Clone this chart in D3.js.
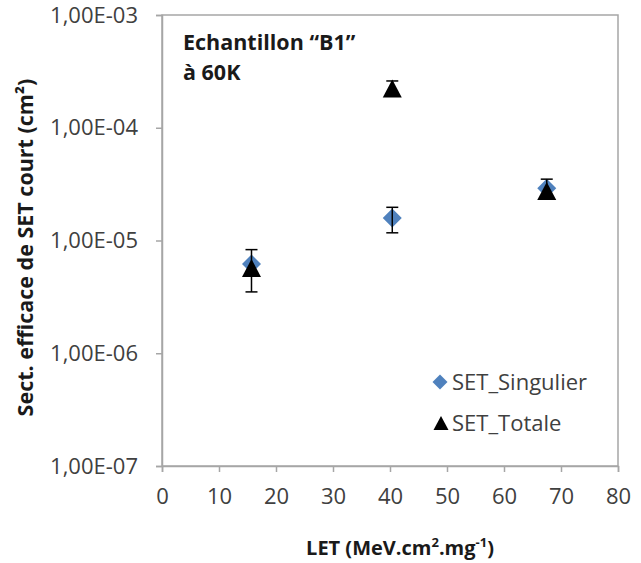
<!DOCTYPE html>
<html><head><meta charset="utf-8">
<script src="https://cdn.jsdelivr.net/npm/d3@7"></script>
<style>
html,body{margin:0;padding:0;background:#fff;}
svg{display:block;font-family:"Open Sans",sans-serif;}
</style></head>
<body><svg id="c" width="641" height="563"></svg>
<script>
// ---- data ----
const xTicks = [0,10,20,30,40,50,60,70,80];
const yTicks = [1e-7,1e-6,1e-5,1e-4,1e-3];
const yTickLabels = ["1,00E-07","1,00E-06","1,00E-05","1,00E-04","1,00E-03"];
const letValues = [15.7, 40.4, 67.5];
const singulier = [6.2e-6, 1.58e-5, 2.9e-5];
const singulierLow = [3.5e-6, 1.17e-5, 2.5e-5];
const singulierHigh = [8.3e-6, 1.97e-5, 3.5e-5];
const totale = [5.7e-6, 2.23e-4, 2.75e-5];
const totaleLow = [5.7e-6, 2.0e-4, 2.75e-5];
const totaleHigh = [5.7e-6, 2.6e-4, 2.75e-5];
const seriesNames = ["SET_Singulier","SET_Totale"];

const svg = d3.select("#c");
const L=162, R=618, T=15, B=466;
const x = d3.scaleLinear().domain([0,80]).range([L,R]);
const y = d3.scaleLog().domain([1e-7,1e-3]).range([B,T]);
const axisCol = "#a6a6a6";

// frame
svg.append("rect").attr("x",L).attr("y",T).attr("width",R-L).attr("height",B-T)
  .attr("fill","none").attr("stroke",axisCol).attr("stroke-width",1.5);

// y axis
const yAx = svg.append("g").attr("transform",`translate(${L},0)`)
  .call(d3.axisLeft(y).tickValues(yTicks).tickSize(6).tickPadding(18)
    .tickFormat((d,i)=>yTickLabels[i]));
yAx.select(".domain").attr("stroke",axisCol).attr("stroke-width",1.5);
yAx.selectAll(".tick line").attr("stroke",axisCol).attr("stroke-width",1.5);
yAx.selectAll(".tick text").attr("font-size",22).attr("fill","#404040")
  .attr("font-family","Open Sans");

// x axis
const xAx = svg.append("g").attr("transform",`translate(0,${B})`)
  .call(d3.axisBottom(x).tickValues(xTicks).tickSize(6).tickPadding(16));
xAx.select(".domain").attr("stroke",axisCol).attr("stroke-width",1.5);
xAx.selectAll(".tick line").attr("stroke",axisCol).attr("stroke-width",1.5);
xAx.selectAll(".tick text").attr("font-size",22).attr("fill","#404040")
  .attr("font-family","Open Sans");

// titles
const xt = svg.append("text").attr("x",400).attr("y",555).attr("text-anchor","middle")
  .attr("font-size",20).attr("font-weight","bold").attr("fill","#1a1a1a");
xt.append("tspan").text("LET (MeV.cm");
xt.append("tspan").attr("font-size",13).attr("dy",-8).text("2");
xt.append("tspan").attr("dy",8).text(".mg");
xt.append("tspan").attr("font-size",13).attr("dy",-8).text("-1");
xt.append("tspan").attr("dy",8).text(")");

svg.append("text").attr("transform",`translate(33,${(T+B)/2+7}) rotate(-90)`)
  .attr("text-anchor","middle").attr("font-size",21.5).attr("font-weight","bold")
  .attr("fill","#1a1a1a").text("Sect. efficace de SET court (cm²)");

// annotation
svg.append("text").attr("x",183).attr("y",50).attr("font-size",21.5).attr("font-weight","bold")
  .attr("fill","#1a1a1a").text("Echantillon “B1”");
svg.append("text").attr("x",183).attr("y",80).attr("font-size",21.5).attr("font-weight","bold")
  .attr("fill","#1a1a1a").text("à 60K");

function diamond(cx,cy,r){return `M${cx},${cy-r}L${cx+r},${cy}L${cx},${cy+r}L${cx-r},${cy}Z`;}
function triangle(cx,cy,h,w){return `M${cx},${cy-h/2}L${cx+w/2},${cy+h/2}L${cx-w/2},${cy+h/2}Z`;}
function errBars(lo,hi){
  const g = svg.append("g").attr("stroke","#000").attr("stroke-width",1.5);
  letValues.forEach((lx,i)=>{
    if(lo[i]===hi[i]) return;
    const cx = x(lx);
    g.append("line").attr("x1",cx).attr("x2",cx).attr("y1",y(lo[i])).attr("y2",y(hi[i]));
    [lo[i],hi[i]].forEach(v=>g.append("line").attr("x1",cx-6).attr("x2",cx+6)
      .attr("y1",y(v)).attr("y2",y(v)));
  });
}

// series 1: diamonds
svg.append("g").selectAll("path").data(singulier).join("path")
  .attr("d",(d,i)=>diamond(x(letValues[i]),y(d),9.5)).attr("fill","#4f81bd");
errBars(singulierLow,singulierHigh);

// series 2: triangles
svg.append("g").selectAll("path").data(totale).join("path")
  .attr("d",(d,i)=>triangle(x(letValues[i]),y(d),18,19)).attr("fill","#000");
errBars(totaleLow,totaleHigh);

// legend
svg.append("path").attr("d",diamond(440,382,7.5)).attr("fill","#4f81bd");
svg.append("text").attr("x",452).attr("y",390).attr("font-size",22).attr("fill","#404040").text(seriesNames[0]);
svg.append("path").attr("d",triangle(441,423,14,15)).attr("fill","#000");
svg.append("text").attr("x",452).attr("y",431).attr("font-size",22).attr("fill","#404040").text(seriesNames[1]);
</script></body></html>
